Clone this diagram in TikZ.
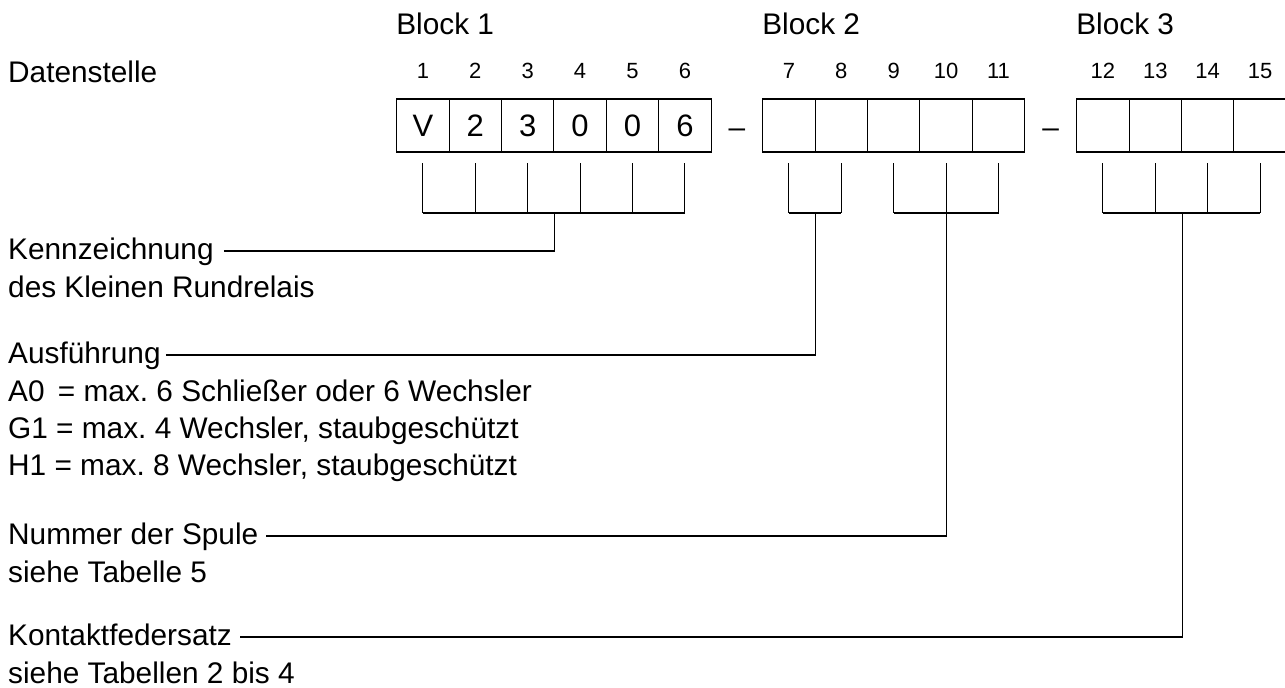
\documentclass[tikz,border=0pt]{standalone}
\usepackage{fontspec}
\setmainfont{Liberation Sans}
\frenchspacing
\begin{document}
\begin{tikzpicture}[x=1pt,y=-1pt,
  cell/.style={draw,line width=1.1pt,minimum width=52.4pt,minimum height=53pt,inner sep=0pt,font=\fontsize{31}{36}\selectfont},
  idx/.style={inner sep=0pt,font=\fontsize{22}{26}\selectfont},
  lbl/.style={inner sep=0pt,anchor=base west,font=\fontsize{29.8}{34}\selectfont},
  dashsign/.style={inner sep=0pt,font=\fontsize{29.8}{34}\selectfont},
  ln/.style={line width=1.1pt}]
\useasboundingbox (0,0) rectangle (1285,688);
% cells
\foreach \i/\x/\t in {1/422.9/V,2/475.3/2,3/527.7/3,4/580.1/0,5/632.5/0,6/684.9/6,
  7/788.9/{},8/841.3/{},9/893.7/{},10/946.1/{},11/998.5/{},
  12/1102.9/{},13/1155.3/{},14/1207.7/{},15/1260.1/{}}{
  \node[cell] (c\i) at (\x,125.5) {\t};
  \node[idx] (n\i) at (\x,71) {\i};
  \draw[ln] (c\i.south |- 0,163) -- (c\i.south |- 0,213);
}
% dashes
\node[dashsign] (d1) at (737,133) {–};
\node[dashsign] (d2) at (1050.7,133) {–};
% block labels
\node[lbl] (blk1) at (c1.west |- 0,34) {Block 1};
\node[lbl] (blk2) at (c7.west |- 0,34) {Block 2};
\node[lbl] (blk3) at (c12.west |- 0,34) {Block 3};
\node[lbl] (dst) at (8,82) {Datenstelle};
% bracket bars
\draw[ln] (c1.south |- 0,213) -- (c6.south |- 0,213);
\draw[ln] (c7.south |- 0,213) -- (c8.south |- 0,213);
\draw[ln] (c9.south |- 0,213) -- (c11.south |- 0,213);
\draw[ln] (c12.south |- 0,213) -- (c15.south |- 0,213);
% labels
\node[lbl] (k1) at (8,259) {Kennzeichnung};
\node[lbl] (k2) at (8,297) {des Kleinen Rundrelais};
\node[lbl] (a1) at (8,363) {Ausführung};
\node[lbl] (a2) at (8,401) {A0 \,= max. 6 Schließer oder 6 Wechsler};
\node[lbl] (a3) at (8,438) {G1 = max. 4 Wechsler, staubgeschützt};
\node[lbl] (a4) at (8,475) {H1 = max. 8 Wechsler, staubgeschützt};
\node[lbl] (s1) at (8,544) {Nummer der Spule};
\node[lbl] (s2) at (8,582) {siehe Tabelle 5};
\node[lbl] (f1) at (8,645) {Kontaktfedersatz};
\node[lbl] (f2) at (8,683) {siehe Tabellen 2 bis 4};
% junctions
\coordinate (j1) at (c3.south east |- 0,251);
\coordinate (j2) at (c7.south east |- 0,355);
\coordinate (j3) at (c10.south |- 0,536);
\coordinate (j4) at (c13.south east |- 0,637);
\draw[ln] ([xshift=10pt]k1.east |- j1) -- (j1) -- (c3.south east |- 0,213);
\draw[ln] ([xshift=5pt]a1.east |- j2) -- (j2) -- (c7.south east |- 0,213);
\draw[ln] ([xshift=8pt]s1.east |- j3) -- (j3) -- (c10.south |- 0,213);
\draw[ln] ([xshift=8pt]f1.east |- j4) -- (j4) -- (c13.south east |- 0,213);
\end{tikzpicture}
\end{document}
